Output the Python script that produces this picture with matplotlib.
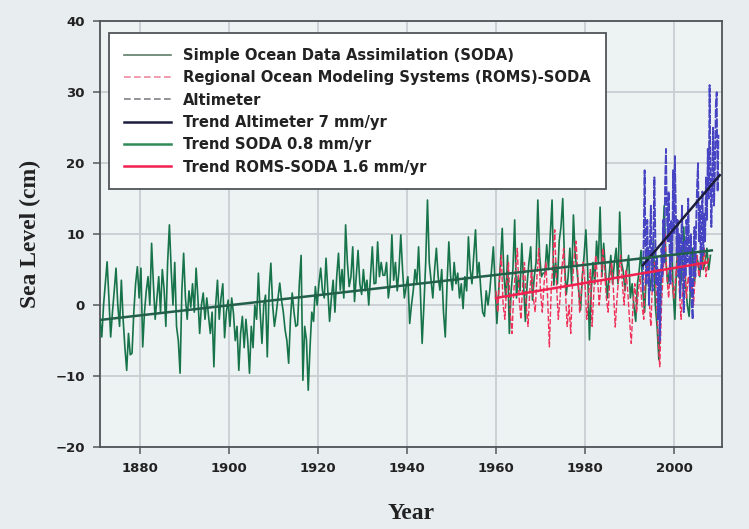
import numpy as np
import matplotlib
matplotlib.use("Agg")
import matplotlib.pyplot as plt
from matplotlib.lines import Line2D

# ---------------- data ----------------
soda_start, soda_step = 1871.0, 0.4
soda_vals = [
    -2, -4.5, 0, 3, 6.1, 1, -4.5, -1, 2, 5.2,
    0, -3, 3.5, -2, -6, -9.2, -4, -7, -6.8, -1,
    3, 5.4, 1, 5.2, -5.9, -1, 2, 4, 0, 8.7,
    3, -2, 1, 4, -1, 5, 2.3, -3, 6, 11.3,
    5, 0, 6, -3, -5, -9.6, 2, 7.3, 1, -2,
    2, -0.3, 3, -1, 5.2, 1, -4, 0, 1.7, -2,
    1, -1.6, -4, -1, -8.7, 0, 3.5, -2, 1, 3,
    -4.6, -1, 0.7, -3, 1, -1.2, -5, -3, -9.2, -4,
    -1.6, -6, -2, -5, -9.6, -3, -6, 0, -2, 4.5,
    -1, -5.4, 0, 1.4, -7.3, 2, 5.9, 0, -3, -1.2,
    1, 3.1, 0.7, -1, -3.5, -5, -8.2, -2, 1.7, -1,
    -3, -2.8, 3, 7.0, -10.6, -3, -4.9, -12, -6, -1,
    -2.3, 2.6, 0, 3, 5.2, 2, 1, 6.6, 2, -2.3,
    1, 3.5, -1, 4, 7.3, 2.1, 5, 1, 11.3, 6,
    2.6, 4, 8.2, 0.5, 4, 7.7, 3, 1.5, 5, 2,
    3.5, 0, 4, 8.2, 3, 3.1, 8.9, 4, 6, 4.2,
    4.2, 6, 1, 3, 9.9, 3.5, 6, 2, 5, 9.9,
    5, 1, 2.6, 4, -2.6, 0, 2, 5, 3, 8.2,
    2, -5.4, 0, 6, 14.8, 6, 3.5, 1, 5, 8.0,
    4, 2.1, 5, -1, -4.5, 3, 8.9, 4, 2.1, 6,
    3, 4.5, 1, 3, -0.5, 4, 2, 9.6, 5, 3,
    7, 10.6, 4, 6, 2, -1, -1.6, 2, 0, 2,
    5, 8.2, 3, -2.6, 2, 6, 10.8, 4, 1, 7,
    -4, 2, 5, 12, 1, 4, 2, 8.7, 3, -2.3,
    3, 6, 8.2, 0.7, 4, 6, 14.8, 7, 4, 4.5,
    4.5, 8.5, 5, 10, 14.8, 2.8, 6, 3, 9, 11,
    15, 6, 1.5, 4, 8, 3, 12.7, 7, 5, 2,
    -0.7, 4, 7, 10.6, 5, -4.9, 2, 6, 3, 9,
    6, 13.8, 4, 8.7, 5, 1, 4, 7, 3, 6,
    8, 3, 13.1, 6, 4.7, 2, 5, 7, 1, 3,
    -0.2, -2.3, 3, 5, 7.7, 2, -1, 5, 8, 2,
    4, 9, 0, -3, -7.7, 2, 8, 14, 6, 3,
    5, 10, 2, -2, 6, 9, 2, 5, 11, 3,
    0, -1.6, 4, 8, 3, 7, 6, 4, 8, 5,
    6, 8, 5, 7,
]

roms_start, roms_step = 1960.0, 0.4
roms_vals = [
    2, -1, 4, 7, 0, -2, 3, 6, -1, -4,
    2, 5, 8, 1, -2, 3, 6, 0, -3, 2,
    5, 1, -1, 4, 8, 2, -1, 3, 6, 1,
    -5.9, 2, 6, 10.6, 3, -2, 1, 5, 8, 2,
    -3, 0, -4, 3, 7, 9, 4, -1, 2, 6,
    3, -2, 1, 5, -3, 2, 7, 4, 0, 3,
    8, 5, 1, -1, 4, 6, 2, -3.1, 1, 4,
    7, 3, 0, 5, 2, -2, -5.4, 0, 3, -1,
    2, 4, 0, -2, 5, 7, 1, -3, 4, 6,
    2, -4, -8.7, 0, 5, 10, 4, 1, 6, 3,
    1, 4, 7, 2, -2, 3, 6, 1, 4, 2,
    3, 0, 5, 7, 4, 6, 5, 8, 4, 6,
    7,
]

alt_start, alt_step = 1993.0, 0.2
alt_vals = [
    2, 10, 19, 8, 3, 12, 6, 0, 9, 14,
    5, 2, 11, 18, 10, 3, 7, -2, 5, -5,
    0, 8, 4, 12, 6, 17, 22, 13, 9, 16,
    8, 3, 12, 6, 19, 10, 21, 14, 7, 12,
    4, 10, 1, 8, 14, 5, -1, 9, 4, 12,
    6, 15, 8, 2, 10, 0, -2, 6, 11, 4,
    12, 17, 20, 9, 14, 5, 11, 16, 7, 13,
    9, 18, 12, 22, 15, 31, 20, 11, 17, 25,
    14, 19, 28, 30, 16, 24,
]

trend_alt_years = [1993.0, 2010.3]
trend_alt_vals = [5.6, 18.3]
trend_soda_years = [1871.0, 2008.5]
trend_soda_vals = [-2.1, 7.7]
trend_roms_years = [1960.0, 2007.4]
trend_roms_vals = [1.0, 6.0]

labels = [
    "Simple Ocean Data Assimilation (SODA)",
    "Regional Ocean Modeling Systems (ROMS)-SODA",
    "Altimeter",
    "Trend Altimeter 7 mm/yr",
    "Trend SODA 0.8 mm/yr",
    "Trend ROMS-SODA 1.6 mm/yr",
]
xticks = [1880, 1900, 1920, 1940, 1960, 1980, 2000]
yticks = [-20, -10, 0, 10, 20, 30, 40]

soda_years = soda_start + soda_step * np.arange(len(soda_vals))
roms_years = roms_start + roms_step * np.arange(len(roms_vals))
alt_years = alt_start + alt_step * np.arange(len(alt_vals))

# ---------------- figure ----------------
bg = "#e8eef0"
fig = plt.figure(figsize=(7.49, 5.29), dpi=100, facecolor=bg)
ax = fig.add_axes([0.1335, 0.155, 0.8305, 0.805], facecolor="#edf2f3")

ax.plot(soda_years, soda_vals, color="#17744a", lw=1.2, zorder=3)
ax.plot(roms_years, roms_vals, color="#f0325a", lw=1.0, ls=(0, (4, 1.5)), zorder=4)
ax.plot(alt_years, alt_vals, color="#4644c2", lw=1.3, ls=(0, (5, 0.8)), zorder=5)
ax.plot(trend_alt_years, trend_alt_vals, color="#1c1c3c", lw=1.8, zorder=6)
ax.plot(trend_soda_years, trend_soda_vals, color="#22604a", lw=1.8, zorder=6)
ax.plot(trend_roms_years, trend_roms_vals, color="#f0204f", lw=1.8, zorder=6)

# legend handles resemble the reference's swatches
h = [
    Line2D([], [], color="#5f7d6a", lw=1.2),
    Line2D([], [], color="#f08aa0", lw=1.2, ls=(0, (4, 2))),
    Line2D([], [], color="#808088", lw=1.2, ls=(0, (4, 2))),
    Line2D([], [], color="#1c1c3c", lw=1.8),
    Line2D([], [], color="#2e8b57", lw=1.8),
    Line2D([], [], color="#f0204f", lw=1.8),
]

ax.set_xlim(1871.0, 2010.8)
ax.set_ylim(-20, 40)
ax.set_xticks(xticks)
ax.set_yticks(yticks)
ax.grid(True, color="#c8ced2", lw=1.3, zorder=0)
ax.set_axisbelow(True)

for s in ax.spines.values():
    s.set_color("#505458")
    s.set_linewidth(1.3)
ax.tick_params(direction="out", length=5, width=1.2, color="#606468",
               labelsize=9.5, pad=6)
for t in ax.get_xticklabels() + ax.get_yticklabels():
    t.set_fontweight("bold")
    t.set_color("#222222")
    t.set_family("DejaVu Sans")

ax.set_xlabel("Year", fontsize=17, fontweight="bold", family="Liberation Serif",
              color="#222222", labelpad=20)
ax.set_ylabel("Sea Level (cm)", fontsize=17, fontweight="bold", family="Liberation Serif",
              color="#222222", labelpad=10)

leg = ax.legend(h, labels, loc="upper left", bbox_to_anchor=(0.0145, 0.972),
                borderaxespad=0, fancybox=False, framealpha=1, edgecolor="#505458",
                prop={"family": "DejaVu Sans", "weight": "bold", "size": 10.6},
                handlelength=3.2, handletextpad=0.85, labelspacing=0.5,
                borderpad=1.0)
leg.get_frame().set_linewidth(1.3)
leg.set_zorder(10)
for t in leg.get_texts():
    t.set_color("#222222")

fig.savefig("out.png", dpi=100, facecolor=bg)
